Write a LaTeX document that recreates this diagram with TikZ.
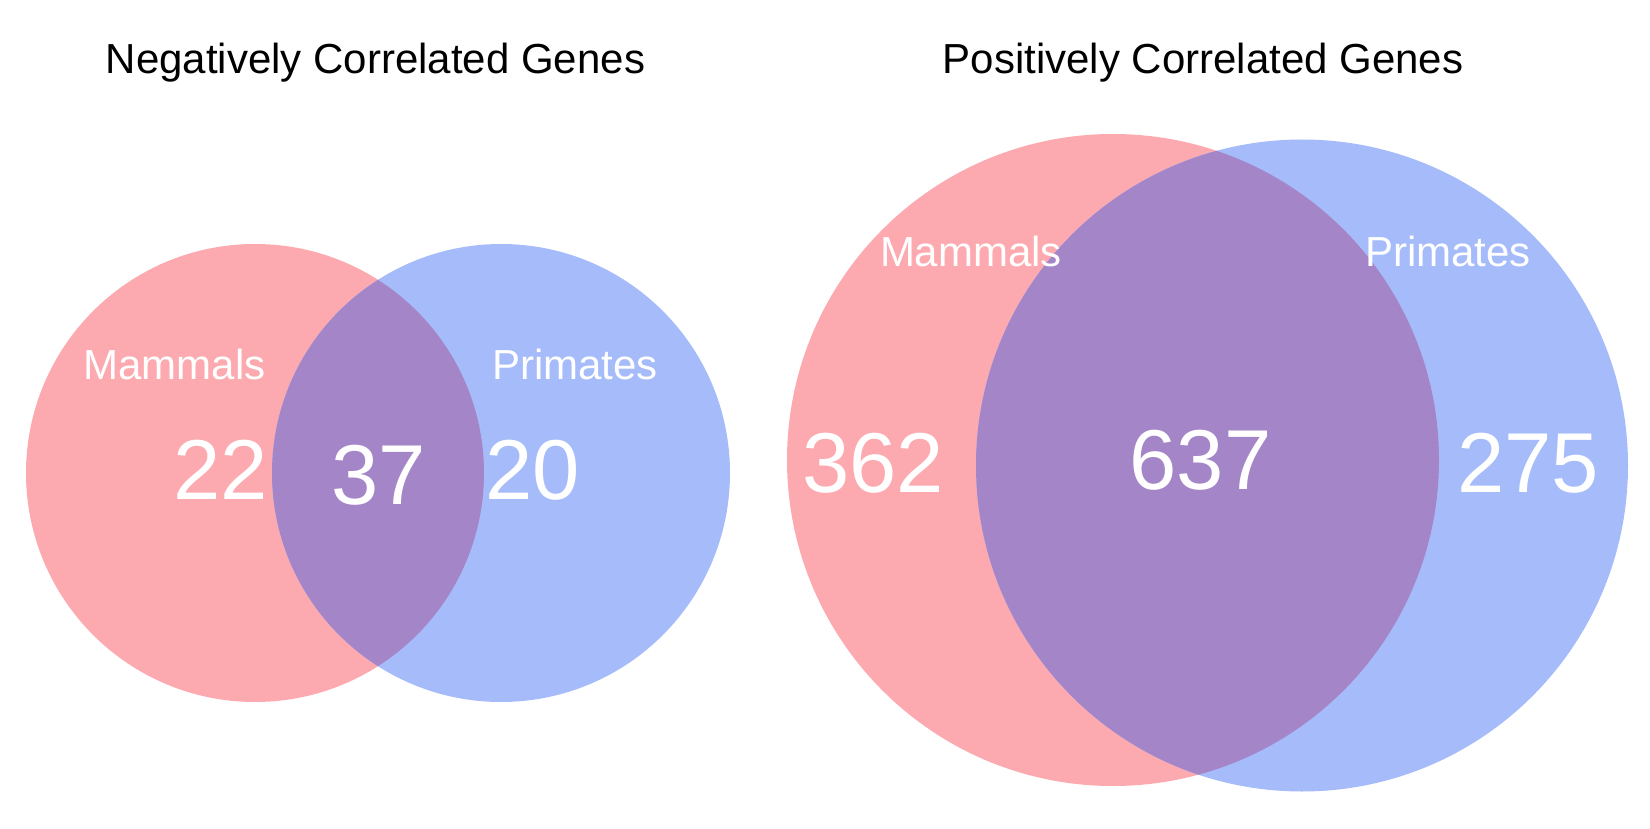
\documentclass[tikz,border=0pt]{standalone}
\usepackage{fontspec}
\setmainfont{Liberation Sans}
\usetikzlibrary{positioning}
\definecolor{mamred}{RGB}{252,170,176}
\definecolor{pribl}{RGB}{166,188,250}
\definecolor{bothpu}{RGB}{164,134,200}

\begin{document}
\begin{tikzpicture}[x=1pt,y=-1pt,
    title/.style={anchor=base,inner sep=0pt,font=\fontsize{42}{48}\selectfont},
    setname/.style={anchor=base,inner sep=0pt,text=white,font=\fontsize{42}{48}\selectfont},
    count/.style={anchor=base,inner sep=0pt,text=white,font=\fontsize{85}{96}\selectfont}]
    \useasboundingbox (0,0) rectangle (1650,829);

    % negatively correlated
    \coordinate (nm) at (255,473);
    \coordinate (np) at (501,473);
    \fill[mamred] (nm) circle[radius=229pt];
    \fill[pribl] (np) circle[radius=229pt];
    \begin{scope}
        \clip (nm) circle[radius=229pt];
        \fill[bothpu] (np) circle[radius=229pt];
    \end{scope}

    % positively correlated
    \coordinate (pm) at (1113,460);
    \coordinate (pp) at (1302,465.5);
    \fill[mamred] (pm) circle[radius=326pt];
    \fill[pribl] (pp) circle[radius=326pt];
    \begin{scope}
        \clip (pm) circle[radius=326pt];
        \fill[bothpu] (pp) circle[radius=326pt];
    \end{scope}

    \node[title] (ntitle) at (375.5,74) {Negatively Correlated Genes};
    \node[title] (ptitle) at (1203,74) {Positively Correlated Genes};

    \node[setname] (nmname) at (174.5,379) {Mammals};
    \node[setname] (npname) at (575,379) {Primates};
    \node[setname] (pmname) at (971,267) {Mammals};
    \node[setname] (ppname) at (1448,267) {Primates};

    \node[count] (nmonly) at (221,499) {22};
    \node[count] (nboth) at (379,504) {37};
    \node[count] (nponly) at (533,499) {20};
    \node[count] (pmonly) at (873,492) {362};
    \node[count] (pboth) at (1200.5,489) {637};
    \node[count] (pponly) at (1528,492) {275};
\end{tikzpicture}
\end{document}
